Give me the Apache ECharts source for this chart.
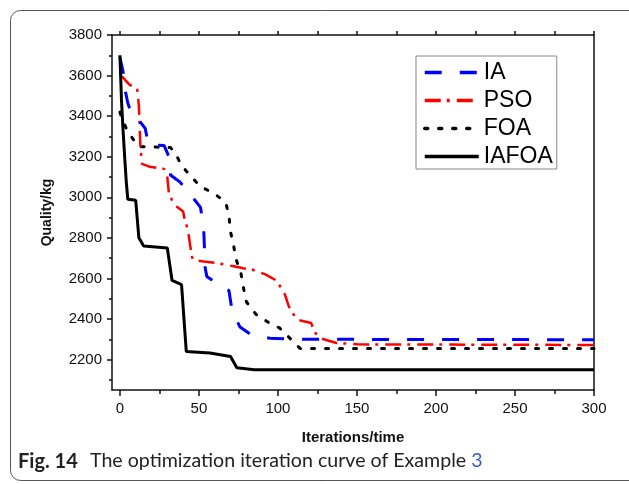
<!DOCTYPE html>
<html><head><meta charset="utf-8">
<script src="https://cdn.jsdelivr.net/npm/echarts@6/dist/echarts.min.js"></script>
<style>html,body{margin:0;padding:0;background:#fff}#c{width:629px;height:484px}</style>
</head><body><div id="c"></div>
<script>
const seriesNames = ['IA', 'PSO', 'FOA', 'IAFOA'];

const iaIter    = [0, 2, 3, 5, 8, 12, 16, 18, 28, 31, 32, 38, 44, 51, 53, 54, 55, 61, 69, 71, 76, 83, 95, 110, 300];
const iaQuality = [3690, 3620, 3540, 3465, 3395, 3380, 3340, 3260, 3255, 3200, 3110, 3075, 3020, 2950, 2850, 2650, 2610, 2578, 2540, 2440, 2360, 2323, 2305, 2300, 2298];

const psoIter    = [0, 2, 6, 10, 11, 12, 12.5, 13, 14, 19, 28, 30, 31, 33, 35, 40, 41, 43, 45, 46, 53, 61, 72, 78, 84, 92, 99, 104, 107, 112, 121, 123, 126, 137, 150, 300];
const psoQuality = [3600, 3590, 3555, 3540, 3530, 3450, 3350, 3250, 3165, 3150, 3140, 3100, 3020, 2985, 2960, 2930, 2890, 2840, 2735, 2692, 2684, 2676, 2660, 2650, 2643, 2620, 2590, 2530, 2460, 2397, 2380, 2340, 2307, 2282, 2275, 2272];

const foaIter    = [0, 1, 4, 8, 12, 32, 35, 39, 45, 51, 60, 67, 69, 70, 72, 73.5, 76.5, 78, 80, 86, 94, 101, 108, 114, 300];
const foaQuality = [3420, 3395, 3340, 3290, 3250, 3245, 3218, 3157, 3102, 3053, 3017, 2974, 2910, 2830, 2760, 2694, 2630, 2561, 2485, 2424, 2383, 2356, 2302, 2255, 2255];

const iafoaIter    = [0, 1, 2, 3, 4, 5, 10, 12, 15, 30, 33, 39, 42, 57, 70, 74, 85, 300];
const iafoaQuality = [3700, 3480, 3330, 3200, 3080, 2990, 2985, 2800, 2760, 2750, 2590, 2570, 2240, 2232, 2215, 2160, 2150, 2150];

const xMajorTicks = [0, 50, 100, 150, 200, 250, 300];
const xMinorTicks = [25, 75, 125, 175, 225, 275];
const xTopTicks = [0, 25, 50, 75, 100, 125, 150, 175, 200, 225, 250, 275, 300];
const yMajorTicks = [2200, 2400, 2600, 2800, 3000, 3200, 3400, 3600, 3800];
const yMinorTicks = [2100, 2300, 2500, 2700, 2900, 3100, 3300, 3500, 3700];

function pairs(xs, ys) { return xs.map((x, i) => [x, ys[i]]); }

const chart = echarts.init(document.getElementById('c'), null, {renderer: 'canvas'});
const axisFont = '"Liberation Sans", Arial, sans-serif';
const lineCol = '#111';

const option = {
  animation: false,
  backgroundColor: '#fff',
  grid: {left: 112, right: 35, top: 35, bottom: 94, containLabel: false},
  legend: {
    orient: 'vertical',
    left: 416, top: 56,
    data: seriesNames,
    itemWidth: 54, itemHeight: 14, itemGap: 5,
    padding: [5, 4, 1, 7],
    borderColor: '#888', borderWidth: 1,
    itemStyle: {opacity: 0},
    lineStyle: {width: 3.5},
    textStyle: {fontFamily: axisFont, fontSize: 23, color: '#000'},
    selectedMode: false
  },
  xAxis: [
    {
      type: 'value', position: 'bottom', min: -5, max: 300,
      axisLine: {show: true, onZero: false, lineStyle: {color: lineCol, width: 1.5}},
      axisTick: {show: true, customValues: xMajorTicks, length: 6, lineStyle: {color: lineCol, width: 1.5}},
      axisLabel: {customValues: xMajorTicks, margin: 11, fontFamily: axisFont, fontSize: 15, color: '#111',
                  formatter: v => String(v)},
      splitLine: {show: false},
      name: 'Iterations/time', nameLocation: 'middle', nameGap: 40,
      nameTextStyle: {fontFamily: axisFont, fontSize: 15, fontWeight: 'bold', color: '#111'}
    },
    {
      type: 'value', position: 'bottom', min: -5, max: 300,
      axisLine: {show: false, onZero: false},
      axisTick: {show: true, customValues: xMinorTicks, length: 4, lineStyle: {color: lineCol, width: 1.5}},
      axisLabel: {show: false},
      splitLine: {show: false}
    },
    {
      type: 'value', position: 'top', min: -5, max: 300,
      axisLine: {show: true, onZero: false, lineStyle: {color: lineCol, width: 1.5}},
      axisTick: {show: true, customValues: xTopTicks, length: 4, lineStyle: {color: lineCol, width: 1.5}},
      axisLabel: {show: false},
      splitLine: {show: false}
    }
  ],
  yAxis: [
    {
      type: 'value', position: 'left', min: 2050, max: 3800,
      axisLine: {show: true, onZero: false, lineStyle: {color: lineCol, width: 1.5}},
      axisTick: {show: true, customValues: yMajorTicks, length: 5, lineStyle: {color: lineCol, width: 1.5}},
      axisLabel: {customValues: yMajorTicks, margin: 10, fontFamily: axisFont, fontSize: 15, color: '#111',
                  formatter: v => String(v)},
      splitLine: {show: false},
      name: 'Quality/kg', nameLocation: 'middle', nameGap: 58, nameRotate: 90,
      nameTextStyle: {fontFamily: axisFont, fontSize: 14, fontWeight: 'bold', color: '#111'}
    },
    {
      type: 'value', position: 'left', min: 2050, max: 3800,
      axisLine: {show: false, onZero: false},
      axisTick: {show: true, customValues: yMinorTicks, length: 3, lineStyle: {color: lineCol, width: 1.5}},
      axisLabel: {show: false},
      splitLine: {show: false}
    },
    {
      type: 'value', position: 'right', min: 2050, max: 3800,
      axisLine: {show: true, onZero: false, lineStyle: {color: lineCol, width: 1.5}},
      axisTick: {show: false}, axisLabel: {show: false}, splitLine: {show: false}
    }
  ],
  series: [
    {
      name: 'FOA', type: 'line', symbol: 'none', z: 2,
      data: pairs(foaIter, foaQuality),
      lineStyle: {color: '#000', width: 3, type: [3, 11], cap: 'round'},
      itemStyle: {color: '#000'}
    },
    {
      name: 'PSO', type: 'line', symbol: 'none', z: 3,
      data: pairs(psoIter, psoQuality),
      lineStyle: {color: '#ff0000', width: 2.5, type: [16, 6, 3, 7]},
      itemStyle: {color: '#ff0000'}
    },
    {
      name: 'IA', type: 'line', symbol: 'none', z: 4,
      data: pairs(iaIter, iaQuality),
      lineStyle: {color: '#0000ff', width: 3, type: [17, 18]},
      itemStyle: {color: '#0000ff'}
    },
    {
      name: 'IAFOA', type: 'line', symbol: 'none', z: 5,
      data: pairs(iafoaIter, iafoaQuality),
      lineStyle: {color: '#000', width: 3},
      itemStyle: {color: '#000'}
    }
  ],
  graphic: [
    {
      type: 'rect', silent: true, z: -1,
      shape: {x: 10.5, y: 10.5, width: 660, height: 470, r: 10},
      style: {fill: 'none', stroke: '#555', lineWidth: 1}
    },
    {
      type: 'text', left: 18, top: 452,
      style: {text: 'Fig. 14', font: 'bold 20px Lato, "Open Sans", sans-serif', fill: '#222'}
    },
    {
      type: 'text', left: 90, top: 451,
      style: {
        text: '{a|The optimization iteration curve of Example }{b|3}',
        rich: {
          a: {font: '19.6px Lato, "Open Sans", sans-serif', fill: '#222'},
          b: {font: '19.6px Lato, "Open Sans", sans-serif', fill: '#3a5fcd'}
        }
      }
    }
  ]
};
chart.setOption(option);
</script>
</body></html>
